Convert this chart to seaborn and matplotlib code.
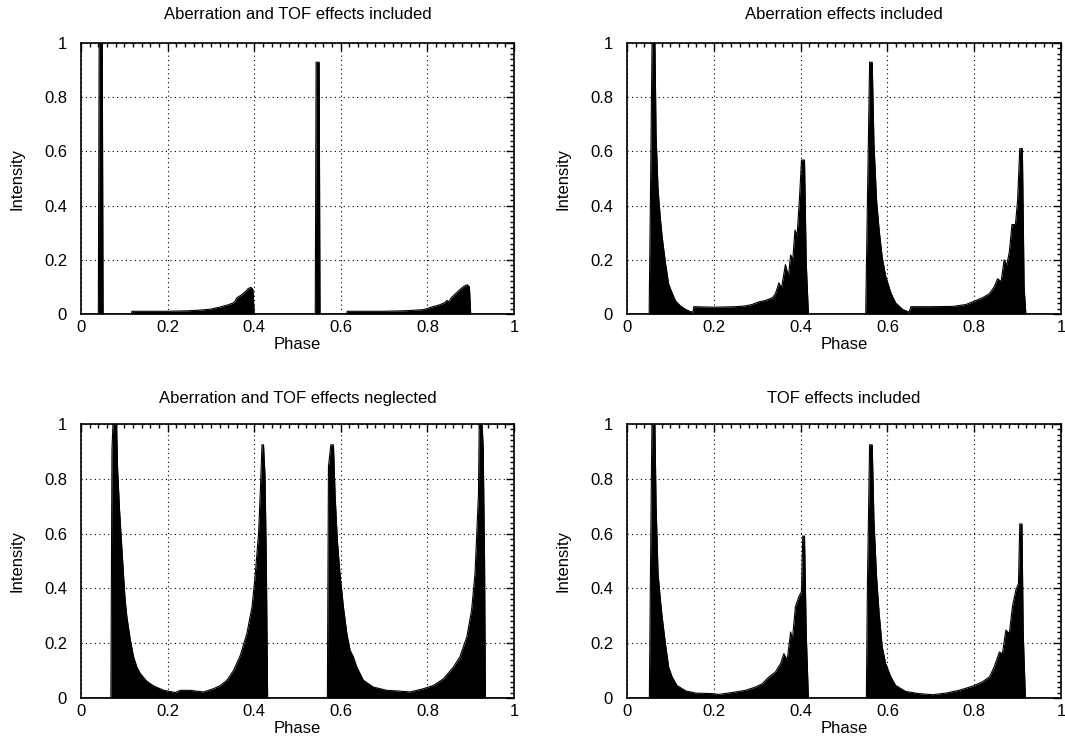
import matplotlib
matplotlib.use("Agg")
import matplotlib.pyplot as plt
from matplotlib.ticker import MultipleLocator, FuncFormatter
import seaborn as sns
import pandas as pd

# Aberration and TOF effects included
phase_tl = [0.0, 0.040, 0.042, 0.049, 0.051, 0.116, 0.118, 0.20, 0.25, 0.28, 0.30, 0.31,
            0.32, 0.33, 0.34, 0.35, 0.355, 0.36, 0.37, 0.38, 0.387, 0.393, 0.397, 0.400,
            0.541, 0.543, 0.550, 0.552, 0.613, 0.615, 0.70, 0.75, 0.79, 0.80, 0.81, 0.82,
            0.83, 0.84, 0.845, 0.85, 0.855, 0.865, 0.875, 0.885, 0.892, 0.897, 0.900, 1.0]
inten_tl = [0.0, 0.0, 1.05, 1.05, 0.0, 0.0, 0.010, 0.010, 0.012, 0.015, 0.018, 0.022,
            0.025, 0.030, 0.034, 0.040, 0.045, 0.060, 0.070, 0.083, 0.095, 0.098, 0.090, 0.0,
            0.0, 0.929, 0.929, 0.0, 0.0, 0.010, 0.010, 0.012, 0.016, 0.020, 0.026, 0.030,
            0.035, 0.042, 0.050, 0.045, 0.060, 0.075, 0.090, 0.103, 0.108, 0.100, 0.0, 0.0]

# Aberration effects included
phase_tr = [0.0, 0.051, 0.054, 0.058, 0.064, 0.067, 0.0715, 0.077, 0.081, 0.0885, 0.096,
            0.104, 0.112, 0.123, 0.135, 0.146, 0.152, 0.154, 0.20, 0.25, 0.273, 0.288,
            0.304, 0.319, 0.335, 0.342, 0.350, 0.356, 0.365, 0.372, 0.377, 0.382, 0.387,
            0.392, 0.398, 0.402, 0.409, 0.413, 0.418,
            0.550, 0.554, 0.559, 0.565, 0.569, 0.575, 0.581, 0.588, 0.596, 0.608, 0.619,
            0.635, 0.650, 0.654, 0.70, 0.75, 0.781, 0.804, 0.819, 0.835, 0.846, 0.854,
            0.862, 0.869, 0.875, 0.881, 0.887, 0.895, 0.900, 0.905, 0.911, 0.915, 0.919, 1.0]
inten_tr = [0.0, 0.0, 0.43, 1.05, 1.05, 0.66, 0.46, 0.35, 0.285, 0.19, 0.11,
            0.078, 0.048, 0.030, 0.017, 0.009, 0.007, 0.027, 0.025, 0.027, 0.030, 0.035,
            0.045, 0.050, 0.060, 0.075, 0.115, 0.096, 0.182, 0.139, 0.218, 0.200, 0.310,
            0.290, 0.444, 0.568, 0.568, 0.188, 0.0,
            0.0, 0.42, 0.929, 0.929, 0.63, 0.42, 0.31, 0.21, 0.14, 0.078, 0.041,
            0.017, 0.007, 0.027, 0.027, 0.028, 0.035, 0.050, 0.060, 0.075, 0.100, 0.130,
            0.120, 0.200, 0.180, 0.230, 0.330, 0.330, 0.420, 0.610, 0.610, 0.100, 0.0, 0.0]

# Aberration and TOF effects neglected
phase_bl = [0.0, 0.069, 0.0715, 0.075, 0.0815, 0.0846, 0.089, 0.0946, 0.0985, 0.102, 0.106,
            0.114, 0.1215, 0.129, 0.137, 0.152, 0.168, 0.191, 0.218, 0.229, 0.252, 0.283,
            0.306, 0.322, 0.337, 0.352, 0.368, 0.383, 0.395, 0.402, 0.410, 0.414, 0.418,
            0.4215, 0.425, 0.428, 0.431,
            0.569, 0.5715, 0.577, 0.583, 0.587, 0.592, 0.598, 0.606, 0.614, 0.6215, 0.629,
            0.637, 0.652, 0.675, 0.706, 0.729, 0.760, 0.791, 0.814, 0.837, 0.860, 0.875,
            0.891, 0.902, 0.910, 0.914, 0.918, 0.920, 0.925, 0.929, 0.932, 0.934, 1.0]
inten_bl = [0.0, 0.0, 0.906, 1.05, 1.05, 0.833, 0.687, 0.54, 0.443, 0.357, 0.296,
            0.211, 0.150, 0.113, 0.089, 0.061, 0.044, 0.028, 0.020, 0.028, 0.028, 0.022,
            0.034, 0.046, 0.065, 0.100, 0.156, 0.235, 0.333, 0.443, 0.600, 0.748, 0.924,
            0.924, 0.810, 0.500, 0.0,
            0.0, 0.845, 0.924, 0.924, 0.735, 0.577, 0.455, 0.333, 0.235, 0.174, 0.150,
            0.113, 0.065, 0.040, 0.028, 0.026, 0.022, 0.034, 0.046, 0.070, 0.113, 0.150,
            0.223, 0.320, 0.455, 0.600, 0.748, 1.05, 1.05, 0.906, 0.500, 0.0, 0.0]

# TOF effects included
phase_br = [0.0, 0.0515, 0.054, 0.0577, 0.0638, 0.067, 0.0715, 0.077, 0.081, 0.0885, 0.096,
            0.104, 0.115, 0.135, 0.158, 0.196, 0.2115, 0.242, 0.273, 0.296, 0.3115, 0.327,
            0.342, 0.354, 0.3615, 0.369, 0.377, 0.381, 0.388, 0.396, 0.402, 0.405, 0.409,
            0.413, 0.418,
            0.5515, 0.554, 0.559, 0.565, 0.569, 0.575, 0.581, 0.588, 0.596, 0.608, 0.619,
            0.642, 0.673, 0.704, 0.735, 0.765, 0.796, 0.819, 0.835, 0.846, 0.858, 0.865,
            0.873, 0.881, 0.888, 0.896, 0.902, 0.905, 0.910, 0.913, 0.918, 1.0]
inten_br = [0.0, 0.0, 0.449, 1.05, 1.05, 0.705, 0.455, 0.357, 0.296, 0.199, 0.113,
            0.077, 0.046, 0.026, 0.018, 0.016, 0.013, 0.020, 0.028, 0.040, 0.052, 0.077,
            0.095, 0.126, 0.162, 0.138, 0.241, 0.211, 0.333, 0.370, 0.388, 0.591, 0.591,
            0.235, 0.0,
            0.0, 0.418, 0.924, 0.924, 0.650, 0.443, 0.309, 0.187, 0.126, 0.077, 0.046,
            0.024, 0.016, 0.012, 0.018, 0.028, 0.043, 0.059, 0.077, 0.113, 0.168, 0.162,
            0.248, 0.235, 0.333, 0.394, 0.418, 0.635, 0.635, 0.235, 0.0, 0.0]

panels = [
    ("Aberration and TOF effects included", phase_tl, inten_tl, [81, 43, 514, 314]),
    ("Aberration effects included", phase_tr, inten_tr, [627, 43, 1061, 314]),
    ("Aberration and TOF effects neglected", phase_bl, inten_bl, [81, 424, 514, 698]),
    ("TOF effects included", phase_br, inten_br, [627, 424, 1061, 698]),
]

sns.set_theme(style="white")
plt.rcParams['font.family'] = ['Liberation Sans', 'DejaVu Sans']
plt.rcParams['font.size'] = 12

W, H = 1065, 754
fig = plt.figure(figsize=(W / 100, H / 100), dpi=100)

fmt = FuncFormatter(lambda v, p: "%g" % round(v, 2))

for i, (title, ph, it, (x0, y0, x1, y1)) in enumerate(panels):
    ax = fig.add_axes([x0 / W, 1 - y1 / H, (x1 - x0) / W, (y1 - y0) / H])
    df = pd.DataFrame({'Phase': ph, 'Intensity': it})
    ax.fill_between(df['Phase'], df['Intensity'], 0, color='black', lw=0)
    sns.lineplot(data=df, x='Phase', y='Intensity', ax=ax, color='black',
                 lw=0.8, sort=False, estimator=None)
    ax.set_xlim(0, 1)
    ax.set_ylim(0, 1)
    ax.xaxis.set_major_locator(MultipleLocator(0.2))
    ax.yaxis.set_major_locator(MultipleLocator(0.2))
    ax.xaxis.set_minor_locator(MultipleLocator(0.02))
    ax.yaxis.set_minor_locator(MultipleLocator(0.02))
    ax.xaxis.set_major_formatter(fmt)
    ax.yaxis.set_major_formatter(fmt)
    ax.tick_params(which='both', direction='in', top=True, right=True,
                   color='black', labelsize=12, labelcolor='black')
    ax.tick_params(which='major', length=6, width=1)
    ax.tick_params(which='minor', length=3, width=1)
    ax.tick_params(axis='x', which='major', pad=4)
    ax.tick_params(axis='y', which='major', pad=10)
    ax.grid(True, which='major', color='black', linestyle=(0, (1, 3)), linewidth=0.8)
    ax.set_axisbelow(True)
    for s in ax.spines.values():
        s.set_color('black')
        s.set_linewidth(1.2)
    ax.set_xlabel("Phase", fontsize=12, labelpad=2, color='black')
    ax.set_ylabel("Intensity", fontsize=12, labelpad=14, color='black')
    ax.set_title(title, fontsize=12, pad=17 if i < 2 else 15, color='black')

fig.savefig("out.png", dpi=100, facecolor='white')
